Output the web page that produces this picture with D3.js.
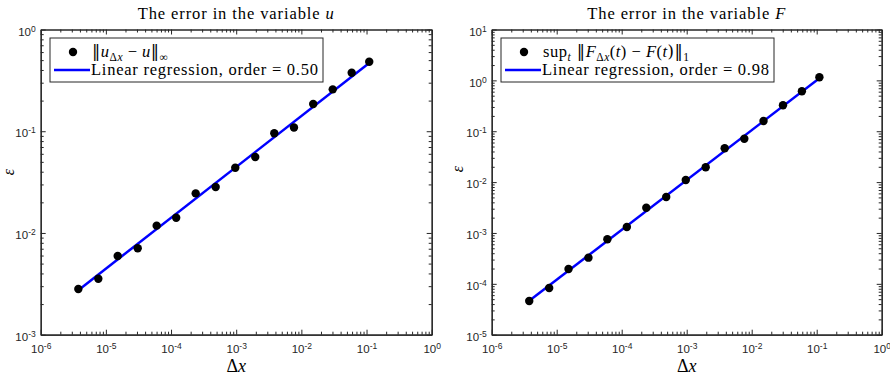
<!DOCTYPE html>
<html>
<head>
<meta charset="utf-8">
<script src="https://cdn.jsdelivr.net/npm/d3@7"></script>
<style>
  body { margin: 0; background: #fff; }
  svg { display: block; }
  .tick text { font-family: "Liberation Sans", Arial, sans-serif; font-size: 11.5px; fill: #262626; }
  .serif { font-family: "Liberation Serif", "Times New Roman", serif; fill: #000; }
  .norm { font-family: "DejaVu Serif", "DejaVu Sans", serif; }
</style>
</head>
<body>
<svg id="chart" width="890" height="378"></svg>
<script>
// grid spacings (shared by both panels)
const dx = [3.78e-6, 7.66e-6, 1.52e-5, 3.08e-5, 6.02e-5, 1.20e-4, 2.39e-4, 4.84e-4,
            9.68e-4, 1.96e-3, 3.84e-3, 7.70e-3, 1.52e-2, 3.03e-2, 5.92e-2, 0.110];
// error in u (sup norm)
const errU = [2.81e-3, 3.55e-3, 5.94e-3, 7.07e-3, 1.18e-2, 1.41e-2, 2.45e-2, 2.83e-2,
              4.38e-2, 5.58e-2, 9.55e-2, 0.109, 0.185, 0.258, 0.376, 0.482];
// error in F (sup_t L1 norm)
const errF = [4.60e-5, 8.28e-5, 1.96e-4, 3.27e-4, 7.51e-4, 1.31e-3, 3.13e-3, 5.09e-3,
              1.10e-2, 1.96e-2, 4.62e-2, 7.14e-2, 0.159, 0.324, 0.610, 1.15];
// regression orders as printed in the legends
const orders = [0.50, 0.98];

const xTickExps = [-6, -5, -4, -3, -2, -1, 0];
const yTickExpsU = [-3, -2, -1, 0];
const yTickExpsF = [-5, -4, -3, -2, -1, 0, 1];
const titleVars = ["u", "F"];

const svg = d3.select("#chart");
const axisColor = "#262626";

function minorTicks(exps) {
  const out = [];
  for (let e = exps[0]; e < exps[exps.length - 1]; e++) {
    for (let m = 2; m <= 9; m++) out.push(m * Math.pow(10, e));
  }
  return out;
}

function powLabel(text, e) {
  text.text(null);
  text.append("tspan").text("10");
  text.append("tspan").attr("dy", "-0.48em").style("font-size", "8.5px").text(e);
}

// tiny helper to write inline math: [text, italic, shift]
function mathText(t, parts) {
  let cur = 0;
  parts.forEach(function(p) {
    const shift = p[2] || 0;
    t.append("tspan")
      .attr("dy", shift - cur)
      .attr("class", p[0].indexOf("‖") >= 0 ? "norm" : null)
      .style("font-style", p[1] ? "italic" : "normal")
      .style("font-size", shift ? "11.5px" : null)
      .text(p[0]);
    cur = shift;
  });
}

function drawPanel(left, width, yExps, ys, order, varName, legendRow1, legendX, legendW, epsPos) {
  const top = 29.5, bottom = 334.7;
  const x = d3.scaleLog().domain([1e-6, 1]).range([left, left + width]);
  const y = d3.scaleLog().domain([Math.pow(10, yExps[0]), Math.pow(10, yExps[yExps.length - 1])]).range([bottom, top]);
  const g = svg.append("g");
  const xMajor = xTickExps.map(e => Math.pow(10, e));
  const yMajor = yExps.map(e => Math.pow(10, e));

  //axes box with inward ticks on all four sides
  const axes = [
    [d3.axisBottom(x), "translate(0," + bottom + ")", xMajor, minorTicks(xTickExps), "x"],
    [d3.axisTop(x), "translate(0," + top + ")", xMajor, minorTicks(xTickExps), null],
    [d3.axisLeft(y), "translate(" + left + ",0)", yMajor, minorTicks(yExps), "y"],
    [d3.axisRight(y), "translate(" + (left + width) + ",0)", yMajor, minorTicks(yExps), null]
  ];
  axes.forEach(function(a) {
    g.append("g").attr("transform", a[1])
      .call(a[0].tickValues(a[3]).tickSize(-3).tickSizeOuter(0))
      .call(s => s.selectAll("path,line").attr("stroke", axisColor))
      .call(s => s.selectAll("text").remove());
    const major = g.append("g").attr("transform", a[1])
      .call(a[0].tickValues(a[2]).tickSize(-5).tickSizeOuter(0).tickPadding(5))
      .call(s => s.selectAll("path,line").attr("stroke", axisColor));
    if (!a[4]) {
      major.selectAll("text").remove();
      return;
    }
    major.selectAll(".tick text").each(function(d) {
      powLabel(d3.select(this), Math.round(Math.log10(d)));
    });
    if (a[4] === "x") major.selectAll(".tick text").attr("y", 18).attr("dy", 0);
    else major.selectAll(".tick text").attr("x", -5).attr("dy", "0.5em");
  });
  g.selectAll(".domain").attr("stroke-width", 1.2);

  //regression line with the printed order, intercept by least squares
  const lx = dx.map(Math.log10), ly = ys.map(Math.log10);
  const icpt = d3.mean(ly) - order * d3.mean(lx);
  const xEnds = d3.extent(dx);
  g.append("line")
    .attr("x1", x(xEnds[0])).attr("y1", y(Math.pow(10, icpt + order * Math.log10(xEnds[0]))))
    .attr("x2", x(xEnds[1])).attr("y2", y(Math.pow(10, icpt + order * Math.log10(xEnds[1]))))
    .attr("stroke", "#0000ff").attr("stroke-width", 2.5);

  //data markers
  g.selectAll("circle.pt").data(dx).join("circle")
    .attr("class", "pt")
    .attr("cx", d => x(d))
    .attr("cy", (d, i) => y(ys[i]))
    .attr("r", 4.2)
    .attr("fill", "#000");

  //title
  const title = g.append("text").attr("class", "serif")
    .attr("x", left + width / 2).attr("y", 19)
    .attr("text-anchor", "middle").style("font-size", "16.5px").style("letter-spacing", "0.9px");
  title.append("tspan").text("The error in the variable ");
  title.append("tspan").style("font-style", "italic").text(varName);

  //axis labels
  const xl = g.append("text").attr("class", "serif")
    .attr("x", left + width / 2).attr("y", 372)
    .attr("text-anchor", "middle").style("font-size", "18px");
  xl.append("tspan").text("Δ");
  xl.append("tspan").style("font-style", "italic").text("x");
  g.append("text").attr("class", "serif")
    .attr("transform", "translate(" + (left - epsPos[0]) + "," + epsPos[1] + ") rotate(-90)")
    .attr("text-anchor", "middle").style("font-size", "16px").style("font-style", "italic")
    .text("ε");

  //legend
  const lg = g.append("g");
  lg.append("rect")
    .attr("x", legendX).attr("y", 38).attr("width", legendW).attr("height", 44)
    .attr("fill", "#fff").attr("stroke", axisColor).attr("stroke-width", 1);
  lg.append("circle").attr("cx", legendX + 23).attr("cy", 52).attr("r", 4.2).attr("fill", "#000");
  lg.append("line")
    .attr("x1", legendX + 4).attr("x2", legendX + 40).attr("y1", 70).attr("y2", 70)
    .attr("stroke", "#0000ff").attr("stroke-width", 2.5);
  const row1 = lg.append("text").attr("class", "serif")
    .attr("x", legendX + 42).attr("y", 57).style("font-size", "16.5px").style("letter-spacing", "0.5px");
  legendRow1(row1);
  lg.append("text").attr("class", "serif")
    .attr("x", legendX + 41).attr("y", 75).style("font-size", "16.5px").style("letter-spacing", "0.75px")
    .text("Linear regression, order = " + order.toFixed(2));
}

drawPanel(40.7, 391, yTickExpsU, errU, orders[0], titleVars[0], function(t) {
  mathText(t, [["‖"], ["u", true], ["Δ", false, 4], ["x", true, 4], [" − "], ["u", true], ["‖"], ["∞", false, 4]]);
}, 50, 273, [26.5, 172]);

drawPanel(491.7, 390, yTickExpsF, errF, orders[1], titleVars[1], function(t) {
  mathText(t, [["sup"], ["t", true, 4], [" ‖"], ["F", true], ["Δ", false, 4], ["x", true, 4],
    ["("], ["t", true], [") − "], ["F", true], ["("], ["t", true], [")‖"], ["1", false, 4]]);
}, 501, 273, [29, 169]);
</script>
</body>
</html>
